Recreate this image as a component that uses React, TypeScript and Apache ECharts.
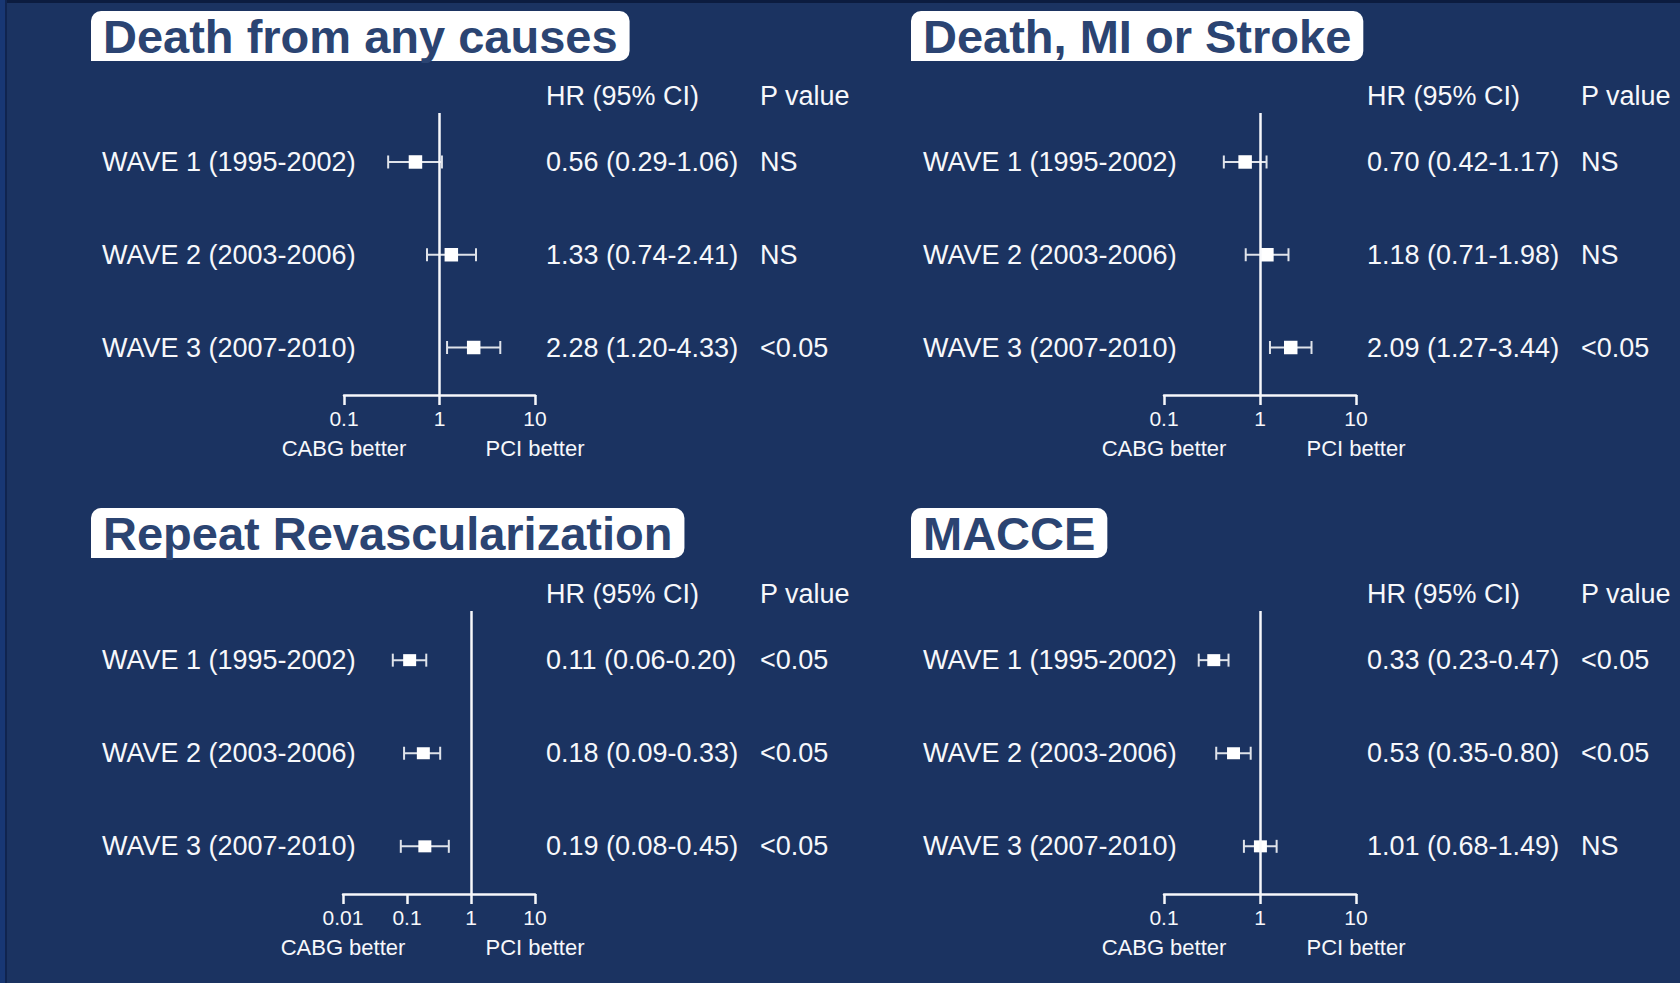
import React, { useEffect, useRef } from "react";
import * as echarts from "echarts";

// ---------- data ----------
const waveLabels = ["WAVE 1 (1995-2002)", "WAVE 2 (2003-2006)", "WAVE 3 (2007-2010)"];
const panelTitles = ["Death from any causes", "Death, MI or Stroke", "Repeat Revascularization", "MACCE"];

const deathHR = [0.56, 1.33, 2.28];
const deathLo = [0.29, 0.74, 1.2];
const deathHi = [1.06, 2.41, 4.33];
const deathP = ["NS", "NS", "<0.05"];

const dmsHR = [0.7, 1.18, 2.09];
const dmsLo = [0.42, 0.71, 1.27];
const dmsHi = [1.17, 1.98, 3.44];
const dmsP = ["NS", "NS", "<0.05"];

const revascHR = [0.11, 0.18, 0.19];
const revascLo = [0.06, 0.09, 0.08];
const revascHi = [0.2, 0.33, 0.45];
const revascP = ["<0.05", "<0.05", "<0.05"];

const macceHR = [0.33, 0.53, 1.01];
const macceLo = [0.23, 0.35, 0.68];
const macceHi = [0.47, 0.8, 1.49];
const macceP = ["<0.05", "<0.05", "NS"];

const axisMins = [0.1, 0.1, 0.01, 0.1];
const axisMaxs = [10, 10, 10, 10];
const headerHR = "HR (95% CI)";
const headerP = "P value";
const betterLeft = "CABG better";
const betterRight = "PCI better";

const panelHR = [deathHR, dmsHR, revascHR, macceHR];
const panelLo = [deathLo, dmsLo, revascLo, macceLo];
const panelHi = [deathHi, dmsHi, revascHi, macceHi];
const panelP = [deathP, dmsP, revascP, macceP];

// ---------- layout / style ----------
const FONT = "'Liberation Sans', Arial, Helvetica, sans-serif";
const BG = "#1b3361";
const WHITE = "#f7f8fb";
const WHISKER = "#dfe3ea";
const TITLE_COLOR = "#2b4472";
const TEXT_SIZE = 27;

const gridLeft = [344, 1164, 343, 1164];
const gridWidth = [191, 192, 192, 192];
const gridTop = [113, 113, 611, 611];
const gridHeight = [282, 282, 283, 283];
const rowLabelX = [102, 923, 102, 923];
const hrColX = [546, 1367, 546, 1367];
const pColX = [760, 1581, 760, 1581];
const headerY = [96, 96, 594, 594];
const titleLeft = [91, 911, 91, 911];
const titleTop = [11, 11, 508, 508];
const squareW = [13.5, 13.5, 13, 13];
const squareH = [13.5, 13.5, 12, 12];
const capH = 13;

const fmt = (v: number) => v.toFixed(2);

function buildOption() {
  const grid: any[] = [];
  const xAxis: any[] = [];
  const yAxis: any[] = [];
  const series: any[] = [];
  const graphic: any[] = [];

  for (let i = 0; i < 4; i++) {
    grid.push({ left: gridLeft[i], top: gridTop[i], width: gridWidth[i], height: gridHeight[i], containLabel: false });
    const mn = axisMins[i];
    const mx = axisMaxs[i];
    // main log axis
    xAxis.push({
      type: "log",
      logBase: 10,
      gridIndex: i,
      min: mn,
      max: mx,
      position: "bottom",
      axisLine: { show: true, onZero: false, lineStyle: { color: WHITE, width: 2.5 } },
      axisTick: { show: true, length: 10, lineStyle: { color: WHITE, width: 2.5 } },
      axisLabel: {
        color: WHITE,
        fontSize: 21,
        fontFamily: FONT,
        margin: 13,
        showMinLabel: true,
        showMaxLabel: true,
        formatter: (v: number) => String(Number(Number(v).toPrecision(6))),
      },
      splitLine: { show: false },
      minorTick: { show: false },
    });
    // label axis: CABG better / PCI better
    xAxis.push({
      type: "log",
      logBase: 10,
      gridIndex: i,
      min: mn,
      max: mx,
      position: "bottom",
      axisLine: { show: false, onZero: false },
      axisTick: { show: false },
      axisLabel: {
        color: WHITE,
        fontSize: 22,
        fontFamily: FONT,
        margin: 42,
        showMinLabel: true,
        showMaxLabel: true,
        formatter: (v: number) => {
          if (Math.abs(Math.log10(v) - Math.log10(mn)) < 1e-6) return betterLeft;
          if (Math.abs(Math.log10(v) - Math.log10(mx)) < 1e-6) return betterRight;
          return "";
        },
      },
      splitLine: { show: false },
    });

    const hr = panelHR[i];
    const lo = panelLo[i];
    const hi = panelHi[i];
    const pv = panelP[i];
    const ciText = hr.map((h, k) => `${fmt(h)} (${fmt(lo[k])}-${fmt(hi[k])})`);

    const yBase = {
      type: "value",
      gridIndex: i,
      min: 0.472,
      max: 3.512,
      inverse: true,
      axisLine: { show: false, onZero: false },
      axisTick: { show: false },
      splitLine: { show: false },
    };
    const labelBase = {
      customValues: [1, 2, 3],
      color: WHITE,
      fontSize: TEXT_SIZE,
      fontFamily: FONT,
      align: "left",
      padding: [0, 0, 2, 0],
    };
    yAxis.push({
      ...yBase,
      position: "left",
      axisLabel: {
        ...labelBase,
        margin: gridLeft[i] - rowLabelX[i],
        formatter: (v: number) => waveLabels[Math.round(v) - 1] ?? "",
      },
    });
    yAxis.push({
      ...yBase,
      position: "right",
      axisLabel: {
        ...labelBase,
        margin: hrColX[i] - (gridLeft[i] + gridWidth[i]),
        formatter: (v: number) => ciText[Math.round(v) - 1] ?? "",
      },
    });
    yAxis.push({
      ...yBase,
      position: "right",
      axisLabel: {
        ...labelBase,
        margin: pColX[i] - (gridLeft[i] + gridWidth[i]),
        formatter: (v: number) => pv[Math.round(v) - 1] ?? "",
      },
    });

    // reference line at HR = 1
    series.push({
      type: "line",
      xAxisIndex: 2 * i,
      yAxisIndex: 3 * i,
      data: [],
      z: 1,
      silent: true,
      markLine: {
        silent: true,
        symbol: ["none", "none"],
        label: { show: false },
        lineStyle: { color: WHITE, width: 2.5, type: "solid" },
        data: [{ xAxis: 1 }],
      },
    });

    const sw = squareW[i];
    const sh = squareH[i];
    series.push({
      type: "custom",
      xAxisIndex: 2 * i,
      yAxisIndex: 3 * i,
      z: 3,
      silent: true,
      encode: { x: [0, 1, 2], y: 3 },
      data: hr.map((h, k) => [h, lo[k], hi[k], k + 1]),
      renderItem: (params: any, api: any) => {
        const y = api.value(3);
        const pc = api.coord([api.value(0), y]);
        const pl = api.coord([api.value(1), y]);
        const ph = api.coord([api.value(2), y]);
        const st = { stroke: WHISKER, lineWidth: 2 };
        return {
          type: "group",
          children: [
            { type: "line", shape: { x1: pl[0], y1: pl[1], x2: ph[0], y2: ph[1] }, style: st },
            { type: "line", shape: { x1: pl[0], y1: pl[1] - capH / 2, x2: pl[0], y2: pl[1] + capH / 2 }, style: st },
            { type: "line", shape: { x1: ph[0], y1: ph[1] - capH / 2, x2: ph[0], y2: ph[1] + capH / 2 }, style: st },
            { type: "rect", shape: { x: pc[0] - sw / 2, y: pc[1] - sh / 2, width: sw, height: sh }, style: { fill: "#ffffff" } },
          ],
        };
      },
    });

    // column headers
    const headerStyle = {
      fill: WHITE,
      fontSize: TEXT_SIZE,
      fontFamily: FONT,
      align: "left",
      verticalAlign: "middle",
      textAlign: "left",
      textVerticalAlign: "middle",
    };
    graphic.push({ type: "text", x: hrColX[i], y: headerY[i], style: { ...headerStyle, text: headerHR } });
    graphic.push({ type: "text", x: pColX[i], y: headerY[i], style: { ...headerStyle, text: headerP } });
  }

  // slide border details
  graphic.push({ type: "rect", z: 100, shape: { x: 0, y: 0, width: 1680, height: 3 }, style: { fill: "#0c1c3f" } });
  graphic.push({ type: "rect", z: 100, shape: { x: 0, y: 0, width: 5, height: 983 }, style: { fill: "#183774" } });
  graphic.push({ type: "rect", z: 100, shape: { x: 5, y: 0, width: 2, height: 983 }, style: { fill: "#10244f" } });

  const title = panelTitles.map((t, i) => ({
    text: t,
    left: titleLeft[i],
    top: titleTop[i],
    padding: [2, 12, 1, 12],
    backgroundColor: "#ffffff",
    borderRadius: [10, 10, 10, 0],
    textStyle: { color: TITLE_COLOR, fontSize: 47, lineHeight: 47, fontWeight: "bold", fontFamily: FONT },
  }));

  return {
    animation: false,
    backgroundColor: BG,
    title,
    grid,
    xAxis,
    yAxis,
    series,
    graphic,
  };
}

export default function App() {
  const ref = useRef<HTMLDivElement>(null);
  useEffect(() => {
    document.body.style.margin = "0";
    if (!ref.current) return;
    const chart = echarts.init(ref.current, undefined, { renderer: "svg" });
    chart.setOption(buildOption() as any);
    return () => chart.dispose();
  }, []);
  return <div ref={ref} style={{ width: 1680, height: 983, position: "absolute", left: 0, top: 0 }} />;
}
